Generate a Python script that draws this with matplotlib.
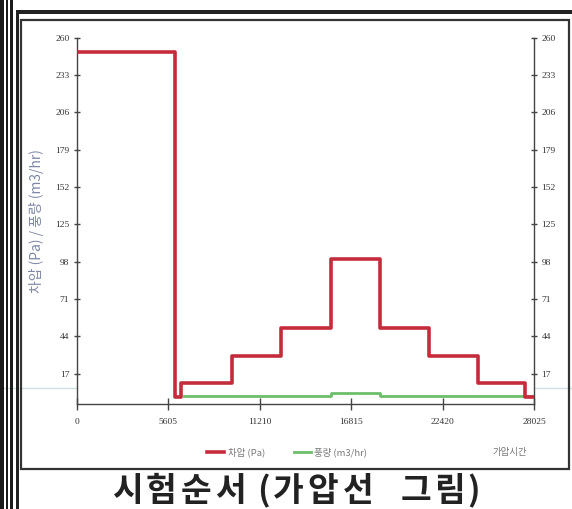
import numpy as np
import matplotlib
matplotlib.use('Agg')
import matplotlib.pyplot as plt
from matplotlib.lines import Line2D
from matplotlib.patches import Rectangle

plt.rcParams['font.family'] = ['Noto Sans CJK KR', 'DejaVu Sans']

# step times (s) and levels
times = [0, 6000, 6400, 9500, 12500, 15600, 18600, 21600, 24600, 27500, 28025]
pressure = [250, 0, 10, 30, 50, 100, 50, 30, 10, 0, 0]
flow_times = [6550, 15600, 18600, 28025]
flow = [1, 3, 1, 1]

yticks = [17, 44, 71, 98, 125, 152, 179, 206, 233, 260]
xticks = [0, 5605, 11210, 16815, 22420, 28025]

W, H = 572, 509
fig = plt.figure(figsize=(W / 100, H / 100), dpi=100)
fig.patch.set_facecolor('white')

def fx(px):
    return px / W

def fy(py):
    return 1 - py / H

# scanned frame decoration
for x0, w in [(0, 4), (6, 2), (10, 3)]:
    fig.add_artist(Rectangle((fx(x0), 0), fx(w), 1, transform=fig.transFigure,
                             color='#1a1a1a', lw=0))
fig.add_artist(Rectangle((fx(16), fy(14)), fx(556), 4 / H, transform=fig.transFigure,
                         color='#222222', lw=0))
fig.add_artist(Rectangle((fx(16), 0), fx(3), fy(10), transform=fig.transFigure,
                         color='#222222', lw=0))
fig.add_artist(Rectangle((fx(21), fy(469)), fx(548), (469 - 20) / H,
                         transform=fig.transFigure, fill=False,
                         edgecolor='#333333', lw=1.6))

ax = fig.add_axes([fx(77), fy(404), fx(534 - 77), (404 - 37.7) / H])
ax.step(times, pressure, where='post', color='#c42c3c', lw=2.6, label='차압 (Pa)', zorder=3)
ax.step(flow_times, flow, where='post', color='#6cbf6a', lw=2.0, label='풍량 (m3/hr)', zorder=2)

ax.set_xlim(0, 28025)
ax.set_ylim(-5, 260)
ax.set_xticks(xticks)
ax.set_yticks(yticks)
ax.tick_params(axis='y', which='both', direction='inout', length=5, width=1,
               labelsize=6.8, labelcolor='#333333', color='#444444',
               right=True, labelright=True, pad=3)
ax.tick_params(axis='x', direction='inout', length=8, width=1,
               labelsize=6.8, labelcolor='#333333', color='#444444', pad=6)
for lab in ax.get_xticklabels() + ax.get_yticklabels():
    lab.set_family(['Liberation Serif', 'DejaVu Sans'])
ax.spines['top'].set_visible(False)
for s in ['left', 'right', 'bottom']:
    ax.spines[s].set_color('#444444')
    ax.spines[s].set_linewidth(1)

ax.set_ylabel('차압 (Pa) / 풍량 (m3/hr)', fontsize=10, color='#7d87a6', labelpad=8)

leg = ax.legend(loc='center', bbox_to_anchor=(0.46, -0.131), ncol=2, frameon=False,
                fontsize=6.8, handlelength=1.8, handletextpad=0.4, columnspacing=3.0)
for t in leg.get_texts():
    t.set_color('#777777')
fig.text(fx(510), fy(452), '가압시간', fontsize=6.8, color='#777777', ha='center', va='center')

# scan artifact line
fig.add_artist(Line2D([0, 1], [fy(388), fy(388)], transform=fig.transFigure,
                      color='#cfe0df', lw=1.0, zorder=0))

# title, placed glyph by glyph like the wide scanned font
title_chars = list('시험순서(가압선그림)')
title_x = [127, 161, 196, 230, 263, 288, 323, 358, 416, 449, 474]
for ch, xc in zip(title_chars, title_x):
    fig.text(fx(xc), fy(491), ch, fontsize=24, fontweight='bold',
             color='#222222', ha='center', va='center')

plt.savefig('out.png', dpi=100)
